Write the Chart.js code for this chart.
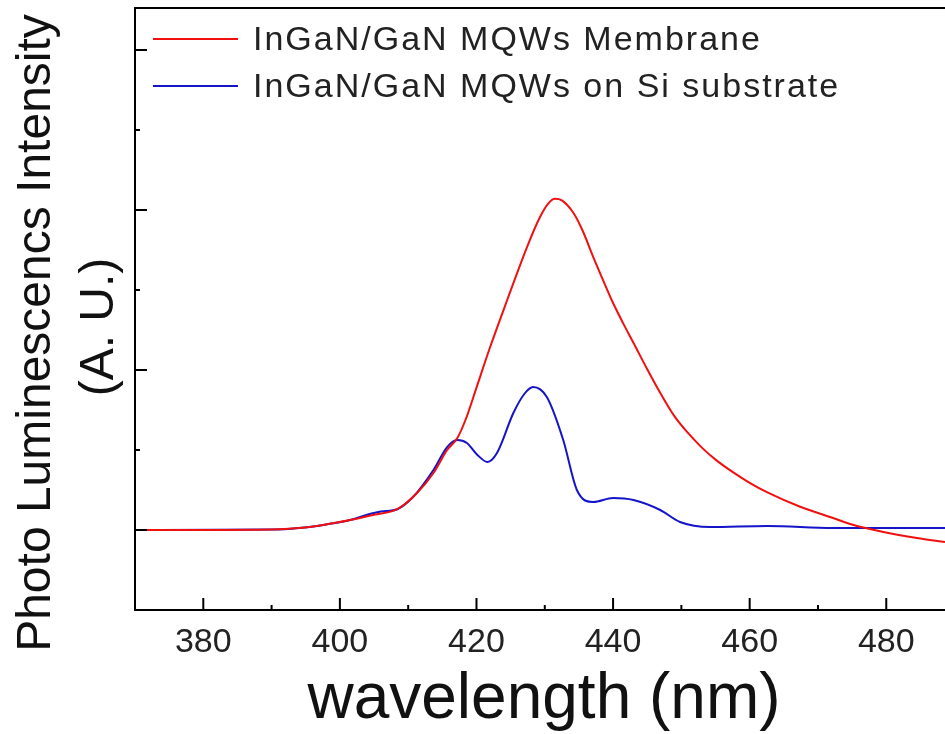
<!DOCTYPE html>
<html>
<head>
<meta charset="utf-8">
<script src="https://cdn.jsdelivr.net/npm/chart.js@4.4.0/dist/chart.umd.min.js"></script>
<style>
  html, body { margin: 0; padding: 0; background: #fff; }
  #wrap { width: 945px; height: 734px; position: relative; }
</style>
</head>
<body>
<div id="wrap"><canvas id="pl"></canvas></div>
<script>
// wavelength (nm) / intensity (a.u.)
const membraneX = [370, 380, 390, 394, 398, 401.5, 405, 408.4, 411.3, 413.7, 415.7, 417.2, 418.5, 420, 422, 424.5, 427.4, 429.3, 430.5, 431.5, 432.5, 434.2, 435.5, 437.1, 438.5, 440, 441.5, 443, 445, 447, 449, 451, 453, 455, 457.6, 460, 462.6, 467.4, 472.2, 475.2, 479.6, 484.5, 488.6];
const membraneY = [0, 0, 5, 25, 70, 125, 190, 260, 462, 712, 1000, 1150, 1400, 1780, 2287, 2875, 3537, 3912, 4080, 4140, 4120, 3962, 3750, 3412, 3130, 2837, 2580, 2337, 2010, 1700, 1420, 1210, 1030, 880, 720, 590, 470, 290, 150, 62, -25, -100, -150];

const siX = [370, 390, 394, 398, 401.5, 404, 406, 408.4, 410.7, 413.7, 415.7, 417.2, 418.6, 420, 421.6, 423, 425.4, 427, 428.3, 430.3, 432.7, 434.7, 437.1, 440, 443, 446.9, 449.8, 454.2, 462.6, 472.2, 488.6];
const siY = [0, 5, 25, 70, 125, 190, 230, 260, 412, 750, 1037, 1125, 1087, 950, 850, 962, 1462, 1700, 1787, 1662, 1125, 500, 350, 400, 375, 250, 100, 37, 50, 25, 25];

const seriesNames = ["InGaN/GaN MQWs Membrane", "InGaN/GaN MQWs on Si substrate"];
const xTickLabels = [380, 400, 420, 440, 460, 480];
const xMinorTicks = [390, 410, 430, 450, 470];
const yMajorTicks = [0, 2000, 4000, 6000];
const yMinorTicks = [1000, 3000, 5000];

const FONT = '"Liberation Sans", Arial, sans-serif';

const toPoints = (xs, ys) => xs.map((x, i) => ({ x: x, y: ys[i] }));

const framePlugin = {
    id: "frame",
    afterDraw(chart) {
        const { ctx, chartArea: a, scales: { x, y } } = chart;
        ctx.save();
        ctx.strokeStyle = "#000";
        ctx.lineWidth = 2;
        // top line of the frame
        ctx.beginPath();
        ctx.moveTo(a.left - 1, a.top);
        ctx.lineTo(a.right, a.top);
        ctx.stroke();
        // inward ticks
        ctx.beginPath();
        xTickLabels.forEach(v => { const px = x.getPixelForValue(v); ctx.moveTo(px, a.bottom); ctx.lineTo(px, a.bottom - 12); });
        xMinorTicks.forEach(v => { const px = x.getPixelForValue(v); ctx.moveTo(px, a.bottom); ctx.lineTo(px, a.bottom - 5); });
        yMajorTicks.forEach(v => { const py = y.getPixelForValue(v); ctx.moveTo(a.left, py); ctx.lineTo(a.left + 12, py); });
        yMinorTicks.forEach(v => { const py = y.getPixelForValue(v); ctx.moveTo(a.left, py); ctx.lineTo(a.left + 5, py); });
        ctx.stroke();

        // legend
        ctx.font = "34px " + FONT;
        ctx.letterSpacing = "2px";
        ctx.textBaseline = "alphabetic";
        ctx.textAlign = "left";
        chart.data.datasets.forEach((ds, i) => {
            const ly = 39 + i * 47;
            ctx.strokeStyle = ds.borderColor;
            ctx.lineWidth = 2;
            ctx.beginPath();
            ctx.moveTo(153, ly);
            ctx.lineTo(238, ly);
            ctx.stroke();
            ctx.fillStyle = "#222";
            ctx.fillText(ds.label, 253, ly + 11);
        });
        ctx.letterSpacing = "0px";

        // axis titles
        ctx.fillStyle = "#111";
        ctx.textAlign = "center";
        ctx.font = "64px " + FONT;
        ctx.fillText("wavelength (nm)", (a.left + a.right) / 2 + 4, 718);
        ctx.font = "48px " + FONT;
        ctx.save();
        ctx.translate(50, 333);
        ctx.rotate(-Math.PI / 2);
        ctx.fillText("Photo Luminescencs Intensity", 0, 0);
        ctx.restore();
        ctx.save();
        ctx.translate(113, 327);
        ctx.rotate(-Math.PI / 2);
        ctx.fillText("(A. U.)", 0, 0);
        ctx.restore();
        ctx.restore();
    }
};

new Chart(document.getElementById("pl"), {
    type: "line",
    data: {
        datasets: [
            {
                label: seriesNames[0],
                data: toPoints(membraneX, membraneY),
                borderColor: "#f01010",
                borderWidth: 2,
                pointRadius: 0,
                cubicInterpolationMode: "monotone",
            },
            {
                label: seriesNames[1],
                data: toPoints(siX, siY),
                borderColor: "#1414c8",
                borderWidth: 2,
                pointRadius: 0,
                cubicInterpolationMode: "monotone",
            },
        ],
    },
    options: {
        responsive: true,
        maintainAspectRatio: false,
        animation: false,
        layout: { padding: { top: 8, right: 0, left: 0, bottom: 0 } },
        plugins: { legend: { display: false }, tooltip: { enabled: false } },
        scales: {
            x: {
                type: "linear",
                min: 370,
                max: 488.6,
                afterBuildTicks: s => { s.ticks = xTickLabels.map(v => ({ value: v })); },
                afterFit: s => { s.height = 124; },
                grid: { display: true, drawOnChartArea: false, drawTicks: false },
                border: { color: "#000", width: 2 },
                ticks: {
                    color: "#222",
                    font: { family: FONT, size: 34 },
                    padding: 12,
                    maxRotation: 0,
                },
            },
            y: {
                min: -1000,
                max: 6525,
                afterFit: s => { s.width = 135; },
                grid: { display: true, drawOnChartArea: false, drawTicks: false },
                border: { color: "#000", width: 2 },
                ticks: { display: false },
            },
        },
    },
    plugins: [framePlugin],
});
</script>
</body>
</html>
